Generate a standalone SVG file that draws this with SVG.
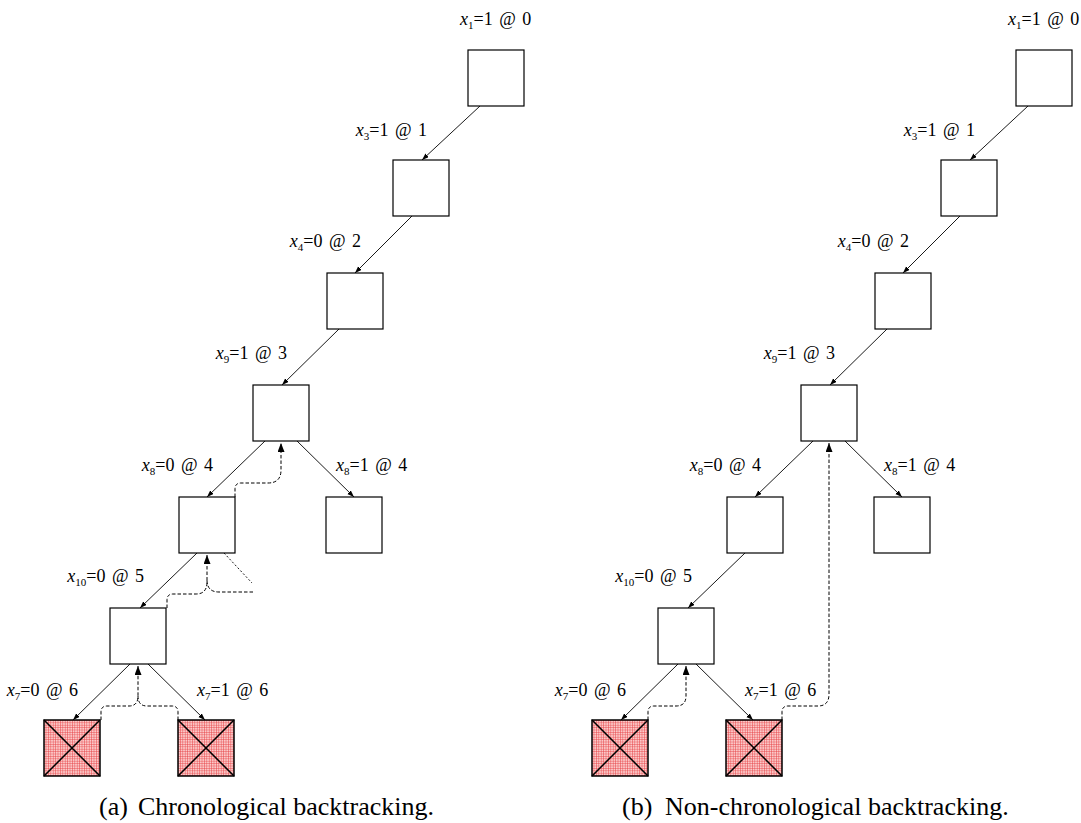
<svg xmlns="http://www.w3.org/2000/svg" width="1081" height="823" viewBox="0 0 1081 823">
  <defs>
    <!-- fine red grid used to fill conflict nodes -->
    <pattern id="grid" width="2.4" height="2.4" patternUnits="userSpaceOnUse">
      <rect width="2.4" height="2.4" fill="#fbcaca"/>
      <path d="M0,0 H2.4 M0,0 V2.4" stroke="#e63a3e" stroke-width="0.9"/>
    </pattern>
    <marker id="arr" markerUnits="userSpaceOnUse" markerWidth="8" markerHeight="6" refX="7" refY="2.5" orient="auto">
      <path d="M0,0 L7,2.5 L0,5 z" fill="#000"/>
    </marker>
    <marker id="arrBig" markerUnits="userSpaceOnUse" markerWidth="10" markerHeight="8" refX="9" refY="3.5" orient="auto">
      <path d="M0,0 L9,3.5 L0,7 z" fill="#000"/>
    </marker>
  </defs>
  <style>
    .box { fill: #fff; stroke: #000; stroke-width: 1.2; }
    .dead rect { fill: url(#grid); stroke: #000; stroke-width: 1.5; }
    .dead path { stroke: #000; stroke-width: 1.5; fill: none; }
    .edge { stroke: #000; stroke-width: 0.9; fill: none; marker-end: url(#arr); }
    .back { stroke: #000; stroke-width: 1; fill: none; stroke-dasharray: 3.5 2; }
    .backA { marker-end: url(#arrBig); }
    .cut { stroke: #000; stroke-width: 0.9; fill: none; stroke-dasharray: 2 2; }
    .lbl { font-family: "Liberation Serif", "Times New Roman", serif; font-size: 18px; word-spacing: 2px; fill: #000; }
    .lbl .v { font-style: italic; }
    .lbl .s { font-size: 11px; }
    .cap { font-family: "Liberation Serif", "Times New Roman", serif; font-size: 26px; fill: #000; }
  </style>

  <rect width="1081" height="823" fill="#fff"/>

  <!-- ===== (a) chronological backtracking ===== -->
  <g id="treeA">
    <g id="connectorsA">
      <path class="edge" d="M480,106 L422,160"/>
      <path class="edge" d="M412,216 L355,273"/>
      <path class="edge" d="M339,329 L282,385"/>
      <path class="edge" d="M265,441 L207,497"/>
      <path class="edge" d="M297,441 L354,497"/>
      <path class="edge" d="M197,553 L140,608"/>
      <path class="edge" d="M130,664 L73,720"/>
      <path class="edge" d="M148,664 L205,720"/>
      <!-- backtrack traces -->
      <path class="back backA" d="M101,720 V712 Q101,706 107,706 H129 Q138,706 138,696 V666"/>
      <path class="back" d="M178,720 V712 Q178,706 172,706 H147 Q138,706 138,696"/>
      <path class="back backA" d="M167,608 V600 Q167,594 173,594 H196 Q207,594 207,582 V555"/>
      <path class="back" d="M253,592 H219 Q207,592 207,580"/>
      <path class="cut" d="M224,553 L252,583"/>
      <path class="back backA" d="M235,497 V489 Q235,483 241,483 H268 Q281,483 281,470 V443"/>
    </g>
    <g id="a_n1"><rect class="box" x="468" y="50" width="56" height="56"/></g>
    <g id="a_n2"><rect class="box" x="393" y="160" width="56" height="56"/></g>
    <g id="a_n3"><rect class="box" x="327" y="273" width="56" height="56"/></g>
    <g id="a_n4"><rect class="box" x="253" y="385" width="56" height="56"/></g>
    <g id="a_n5"><rect class="box" x="179" y="497" width="56" height="56"/></g>
    <g id="a_n5b"><rect class="box" x="326" y="497" width="56" height="56"/></g>
    <g id="a_n6"><rect class="box" x="110" y="608" width="56" height="56"/></g>
    <g id="a_c1" class="dead"><rect x="44" y="720" width="56" height="56"/><path d="M44,720 L100,776 M100,720 L44,776"/></g>
    <g id="a_c2" class="dead"><rect x="178" y="720" width="56" height="56"/><path d="M178,720 L234,776 M234,720 L178,776"/></g>

    <g id="labelsA">
      <text class="lbl" x="460" y="25"><tspan class="v">x</tspan><tspan class="s" dy="4">1</tspan><tspan dy="-4">=1 @ 0</tspan></text>
      <text class="lbl" x="427" y="136" text-anchor="end"><tspan class="v">x</tspan><tspan class="s" dy="4">3</tspan><tspan dy="-4">=1 @ 1</tspan></text>
      <text class="lbl" x="361" y="247" text-anchor="end"><tspan class="v">x</tspan><tspan class="s" dy="4">4</tspan><tspan dy="-4">=0 @ 2</tspan></text>
      <text class="lbl" x="287" y="359" text-anchor="end"><tspan class="v">x</tspan><tspan class="s" dy="4">9</tspan><tspan dy="-4">=1 @ 3</tspan></text>
      <text class="lbl" x="213" y="471" text-anchor="end"><tspan class="v">x</tspan><tspan class="s" dy="4">8</tspan><tspan dy="-4">=0 @ 4</tspan></text>
      <text class="lbl" x="336" y="471"><tspan class="v">x</tspan><tspan class="s" dy="4">8</tspan><tspan dy="-4">=1 @ 4</tspan></text>
      <text class="lbl" x="144" y="582" text-anchor="end"><tspan class="v">x</tspan><tspan class="s" dy="4">10</tspan><tspan dy="-4">=0 @ 5</tspan></text>
      <text class="lbl" x="78" y="696" text-anchor="end"><tspan class="v">x</tspan><tspan class="s" dy="4">7</tspan><tspan dy="-4">=0 @ 6</tspan></text>
      <text class="lbl" x="197" y="696"><tspan class="v">x</tspan><tspan class="s" dy="4">7</tspan><tspan dy="-4">=1 @ 6</tspan></text>
    </g>
    <text class="cap" y="815"><tspan x="99">(a)</tspan><tspan x="138">Chronological backtracking.</tspan></text>
  </g>

  <!-- ===== (b) non-chronological backtracking ===== -->
  <g id="treeB" transform="translate(548,0)">
    <g id="connectorsB">
      <path class="edge" d="M480,106 L422,160"/>
      <path class="edge" d="M412,216 L355,273"/>
      <path class="edge" d="M339,329 L282,385"/>
      <path class="edge" d="M265,441 L207,497"/>
      <path class="edge" d="M297,441 L354,497"/>
      <path class="edge" d="M197,553 L140,608"/>
      <path class="edge" d="M130,664 L73,720"/>
      <path class="edge" d="M148,664 L205,720"/>
      <!-- backjump traces -->
      <path class="back backA" d="M100,720 V712 Q100,706 106,706 H128 Q138,706 138,696 V666"/>
      <path class="back backA" d="M234,720 V712 Q234,706 240,706 H270 Q281,706 281,694 V443"/>
    </g>
    <g id="b_n1"><rect class="box" x="468" y="50" width="56" height="56"/></g>
    <g id="b_n2"><rect class="box" x="393" y="160" width="56" height="56"/></g>
    <g id="b_n3"><rect class="box" x="327" y="273" width="56" height="56"/></g>
    <g id="b_n4"><rect class="box" x="253" y="385" width="56" height="56"/></g>
    <g id="b_n5"><rect class="box" x="179" y="497" width="56" height="56"/></g>
    <g id="b_n5b"><rect class="box" x="326" y="497" width="56" height="56"/></g>
    <g id="b_n6"><rect class="box" x="110" y="608" width="56" height="56"/></g>
    <g id="b_c1" class="dead"><rect x="44" y="720" width="56" height="56"/><path d="M44,720 L100,776 M100,720 L44,776"/></g>
    <g id="b_c2" class="dead"><rect x="178" y="720" width="56" height="56"/><path d="M178,720 L234,776 M234,720 L178,776"/></g>

    <g id="labelsB">
      <text class="lbl" x="460" y="25"><tspan class="v">x</tspan><tspan class="s" dy="4">1</tspan><tspan dy="-4">=1 @ 0</tspan></text>
      <text class="lbl" x="427" y="136" text-anchor="end"><tspan class="v">x</tspan><tspan class="s" dy="4">3</tspan><tspan dy="-4">=1 @ 1</tspan></text>
      <text class="lbl" x="361" y="247" text-anchor="end"><tspan class="v">x</tspan><tspan class="s" dy="4">4</tspan><tspan dy="-4">=0 @ 2</tspan></text>
      <text class="lbl" x="287" y="359" text-anchor="end"><tspan class="v">x</tspan><tspan class="s" dy="4">9</tspan><tspan dy="-4">=1 @ 3</tspan></text>
      <text class="lbl" x="213" y="471" text-anchor="end"><tspan class="v">x</tspan><tspan class="s" dy="4">8</tspan><tspan dy="-4">=0 @ 4</tspan></text>
      <text class="lbl" x="336" y="471"><tspan class="v">x</tspan><tspan class="s" dy="4">8</tspan><tspan dy="-4">=1 @ 4</tspan></text>
      <text class="lbl" x="144" y="582" text-anchor="end"><tspan class="v">x</tspan><tspan class="s" dy="4">10</tspan><tspan dy="-4">=0 @ 5</tspan></text>
      <text class="lbl" x="78" y="696" text-anchor="end"><tspan class="v">x</tspan><tspan class="s" dy="4">7</tspan><tspan dy="-4">=0 @ 6</tspan></text>
      <text class="lbl" x="197" y="696"><tspan class="v">x</tspan><tspan class="s" dy="4">7</tspan><tspan dy="-4">=1 @ 6</tspan></text>
    </g>
    <text class="cap" y="815"><tspan x="74">(b)</tspan><tspan x="117">Non-chronological backtracking.</tspan></text>
  </g>
</svg>
